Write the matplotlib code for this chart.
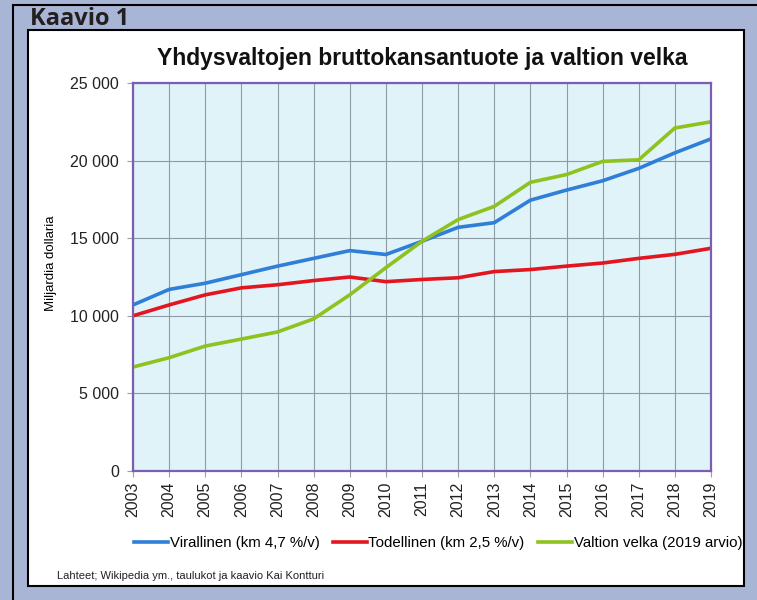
import matplotlib.pyplot as plt
from matplotlib.patches import Rectangle
from matplotlib.ticker import FuncFormatter

# Vuodet ja sarjat (miljardia dollaria)
vuodet = list(range(2003, 2020))
virallinen = [10700, 11700, 12100, 12650, 13200, 13700, 14200, 13950, 14800,
              15700, 16000, 17450, 18100, 18700, 19500, 20500, 21400]
todellinen = [10000, 10700, 11350, 11800, 12000, 12270, 12500, 12200, 12340,
              12450, 12850, 12980, 13200, 13400, 13700, 13960, 14350]
velka = [6700, 7300, 8050, 8500, 8960, 9800, 11350, 13100, 14800,
         16200, 17050, 18600, 19100, 19950, 20050, 22100, 22500]

W, H = 757, 600
fig = plt.figure(figsize=(W / 100, H / 100), dpi=100)
fig.patch.set_facecolor('#a9b5d5')

def px(x0, y0, x1, y1, **kw):
    # suorakulmio pikseleinä (ylhäältä mitattuna)
    return Rectangle((x0 / W, 1 - y1 / H), (x1 - x0) / W, (y1 - y0) / H,
                     transform=fig.transFigure, zorder=-5, **kw)

fig.patches.append(px(12.5, 4.5, 770, 620, facecolor='none', edgecolor='black', lw=1.5))
fig.patches.append(px(27.5, 30, 743.5, 586, facecolor='white', edgecolor='black', lw=1.5))

fig.text(30 / W, 1 - 19 / H, 'Kaavio 1', fontsize=17, fontweight='bold',
         family='Open Sans', va='center', ha='left', color='#231f20')

ax = fig.add_axes([133 / W, 1 - 471 / H, (711 - 133) / W, (471 - 83) / H])
ax.set_facecolor('#dff3f9')
ax.plot(vuodet, virallinen, color='#2f7ed8', lw=2.6, label='Virallinen (km 4,7 %/v)')
ax.plot(vuodet, todellinen, color='#e3161f', lw=2.6, label='Todellinen (km 2,5 %/v)')
ax.plot(vuodet, velka, color='#8dc21f', lw=2.6, label='Valtion velka (2019 arvio)')

ax.set_xlim(2003, 2019)
ax.set_ylim(0, 25000)
ax.set_xticks(vuodet)
ax.set_xticklabels([str(v) for v in vuodet], rotation=90, fontsize=11.5,
                   family='Liberation Sans')
ax.set_yticks(range(0, 25001, 5000))
ax.yaxis.set_major_formatter(FuncFormatter(lambda v, p: f'{int(v):,}'.replace(',', ' ')))
for t in ax.get_yticklabels():
    t.set_fontsize(11.5)
    t.set_family('Liberation Sans')
ax.grid(True, color='#8d9ba5', lw=0.8)
ax.set_axisbelow(True)
for s in ax.spines.values():
    s.set_color('#7b5db3')
    s.set_linewidth(1.6)
ax.tick_params(axis='both', color='#9aa0a6', length=4, width=0.8, colors='#222222')
ax.tick_params(axis='y', pad=6)
ax.set_ylabel('Miljardia dollaria', fontsize=9.5, family='Liberation Sans')
ax.yaxis.set_label_coords(-0.131, 0.536)

ax.set_title('Yhdysvaltojen bruttokansantuote ja valtion velka', fontsize=16.5,
             fontweight='bold', family='Liberation Sans', pad=13, color='#111111')

fig.legend(loc='center', bbox_to_anchor=(438 / W, 1 - 543 / H), ncol=3, frameon=False,
           prop={'family': 'Liberation Sans', 'size': 10.8}, handlelength=2.3,
           handletextpad=0.1, columnspacing=0.85)

fig.text(57 / W, 1 - 576 / H, 'Lahteet; Wikipedia ym., taulukot ja kaavio Kai Kontturi',
         fontsize=8, family='Liberation Sans', va='center', ha='left', color='#222222')

fig.savefig('out.png', dpi=100, facecolor=fig.get_facecolor())
